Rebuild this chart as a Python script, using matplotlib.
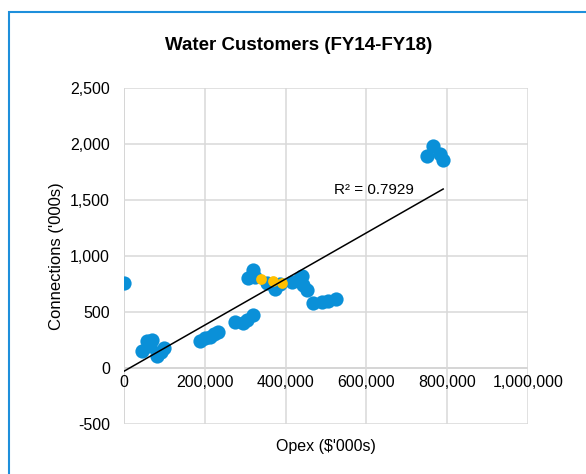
import numpy as np
import matplotlib.pyplot as plt
from matplotlib.patches import Rectangle

plt.rcParams['font.family'] = ['Liberation Sans', 'DejaVu Sans']

# opex ($'000s) vs connections ('000s), all water utilities
opex = [0, 45000, 58000, 70000, 65000, 82000, 92000, 100000,
        188000, 200000, 212000, 222000, 233000,
        275000, 295000, 305000, 319000,
        308000, 320000, 324000, 353000, 374000, 386000, 415000, 436000,
        444000, 452000, 440000,
        468000, 489000, 505000, 525000,
        765000, 750000, 782000, 790000]
connections = [760, 150, 240, 250, 200, 110, 140, 175,
               245, 265, 280, 300, 320,
               415, 400, 430, 470,
               800, 875, 815, 755, 705, 750, 770, 800,
               740, 700, 820,
               580, 585, 595, 615,
               1980, 1895, 1910, 1860]
# highlighted utility
opex_hl = [338000, 368000, 391000]
conn_hl = [792, 777, 758]

x_ticks = [0, 200000, 400000, 600000, 800000, 1000000]
y_ticks = [-500, 0, 500, 1000, 1500, 2000, 2500]
r2_label = 'R² = 0.7929'

blue = '#0A90D8'
gold = '#FFC000'

fig = plt.figure(figsize=(5.86, 4.74), dpi=100)
ax = fig.add_axes([124 / 586, 50 / 474, 404 / 586, 336 / 474])

# chart frame (runs off the right and bottom edges)
fig.patches.append(Rectangle((9 / 586, -0.1), 1.2, (474 - 12) / 474 + 0.1,
                             transform=fig.transFigure, fill=False,
                             edgecolor='#1E8FDB', linewidth=1.5, zorder=0))

ax.set_xlim(0, 1000000)
ax.set_ylim(-500, 2500)
ax.set_xticks(x_ticks)
ax.set_yticks(y_ticks)
ax.grid(True, color='#D9D9D9', linewidth=1.1, zorder=0)
for s in ax.spines.values():
    s.set_visible(False)
ax.axhline(0, color='#BFBFBF', linewidth=1.1, zorder=1)
ax.axvline(0, color='#BFBFBF', linewidth=1.1, zorder=1)

ax.tick_params(length=0, labelsize=11.5)
ax.tick_params(axis='y', pad=10)
ax.set_yticklabels([f'{v:,}' for v in y_ticks])
ax.set_xticklabels([])
# x labels sit under the y=0 axis line, like excel
for v in x_ticks:
    ax.annotate(f'{v:,}', (v, 0), xytext=(0, -5), textcoords='offset points',
                ha='center', va='top', fontsize=11.5)

ax.scatter(opex, connections, s=105, color=blue, zorder=3, linewidths=0)
ax.scatter(opex_hl, conn_hl, s=60, color=gold, zorder=4, linewidths=0)

# linear trendline
xa = np.array(opex + opex_hl, dtype=float)
ya = np.array(connections + conn_hl, dtype=float)
k, b = np.polyfit(xa, ya, 1)
xs = np.array([xa.min(), xa.max()])
ax.plot(xs, k * xs + b, color='black', linewidth=1.1, zorder=5)
ax.text(520000, 1590, r2_label, fontsize=11, va='center', ha='left')

ax.set_xlabel("Opex ($'000s)", fontsize=11.5)
ax.xaxis.set_label_coords(0.5, -0.045)
ax.set_ylabel("Connections ('000s)", fontsize=12)
ax.yaxis.set_label_coords(-0.148, 0.5)
fig.text(299 / 586, 1 - 45 / 474, 'Water Customers (FY14-FY18)',
         fontsize=13.5, fontweight='bold', ha='center', va='center')

fig.savefig('out.png', dpi=100)
